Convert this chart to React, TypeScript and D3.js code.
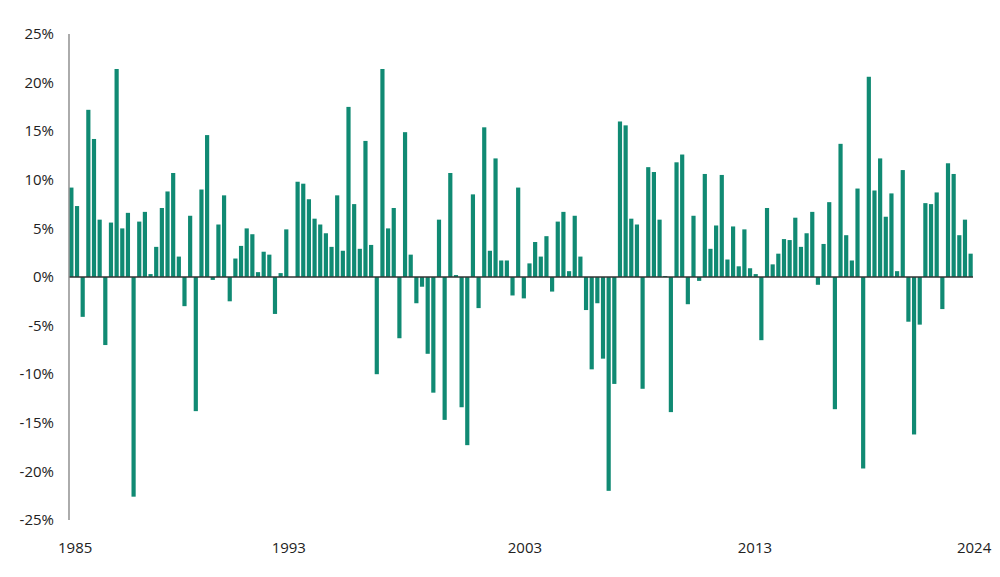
import * as d3 from "d3"

// quarterly returns, %, 1985 Q1 .. 2024 Q4
const returns = [
  9.2, 7.3, -4.1, 17.2, 14.2, 5.9, -7.0, 5.6, 21.4, 5.0, 6.6, -22.6, 5.7, 6.7, 0.3, 3.1,
  7.1, 8.8, 10.7, 2.1, -3.0, 6.3, -13.8, 9.0, 14.6, -0.3, 5.4, 8.4, -2.5, 1.9, 3.2, 5.0,
  4.4, 0.5, 2.6, 2.3, -3.8, 0.4, 4.9, 0.0, 9.8, 9.6, 8.0, 6.0, 5.4, 4.5, 3.1, 8.4,
  2.7, 17.5, 7.5, 2.9, 14.0, 3.3, -10.0, 21.4, 5.0, 7.1, -6.3, 14.9, 2.3, -2.7, -1.0, -7.9,
  -11.9, 5.9, -14.7, 10.7, 0.2, -13.4, -17.3, 8.5, -3.2, 15.4, 2.7, 12.2, 1.7, 1.7, -1.9, 9.2,
  -2.2, 1.4, 3.6, 2.1, 4.2, -1.5, 5.7, 6.7, 0.6, 6.3, 2.1, -3.4, -9.5, -2.7, -8.4, -22.0,
  -11.0, 16.0, 15.6, 6.0, 5.4, -11.5, 11.3, 10.8, 5.9, 0.1, -13.9, 11.8, 12.6, -2.8, 6.3, -0.4,
  10.6, 2.9, 5.3, 10.5, 1.8, 5.2, 1.1, 4.9, 0.9, 0.3, -6.5, 7.1, 1.3, 2.4, 3.9, 3.8,
  6.1, 3.1, 4.5, 6.7, -0.8, 3.4, 7.7, -13.6, 13.7, 4.3, 1.7, 9.1, -19.7, 20.6, 8.9, 12.2,
  6.2, 8.6, 0.6, 11.0, -4.6, -16.2, -4.9, 7.6, 7.5, 8.7, -3.3, 11.7, 10.6, 4.3, 5.9, 2.4,
]

const yTicks = [25, 20, 15, 10, 5, 0, -5, -10, -15, -20, -25]
const yearLabels = ["1985", "1993", "2003", "2013", "2024"]
// where each year label sits, measured in quarters from the left edge
const yearPos = [1.1, 38.9, 80.7, 121.4, 160.2]

const W = 1000, H = 577
const m = { left: 69, right: 27, top: 34, bottom: 57 }
const font = "'Open Sans', 'Noto Sans', sans-serif"

export default function App() {
  const x = d3.scaleBand<number>().domain(d3.range(returns.length)).range([m.left, W - m.right]).paddingInner(0.26).paddingOuter(0.05)
  const q = d3.scaleLinear().domain([0, returns.length]).range([m.left, W - m.right])
  const y = d3.scaleLinear().domain([-25, 25]).range([H - m.bottom, m.top])

  return (
    <div style={{ position: "absolute", left: 0, top: 0 }}>
      <svg width={W} height={H} style={{ display: "block", background: "#fff" }}>
        {returns.map((v, i) => (
          <rect key={i} x={x(i)} width={x.bandwidth()}
            y={y(Math.max(0, v))} height={Math.abs(y(v) - y(0))}
            fill="#108a73" />
        ))}
        <line x1={m.left} x2={W - m.right} y1={y(0)} y2={y(0)} stroke="#333" strokeWidth={1.5} />
        <line x1={m.left} x2={m.left} y1={y(25)} y2={y(-25)} stroke="#888" strokeWidth={1.4} />
        {yTicks.map(t => (
          <text key={t} x={54} y={y(t)} dy="0.35em" textAnchor="end"
            style={{ fontFamily: font, fontSize: 15, fill: "#222" }}>{t}%</text>
        ))}
        {yearLabels.map((l, i) => (
          <text key={l} x={q(yearPos[i])} y={552.5} textAnchor="middle"
            style={{ fontFamily: font, fontSize: 15, fill: "#222" }}>{l}</text>
        ))}
      </svg>
    </div>
  )
}
